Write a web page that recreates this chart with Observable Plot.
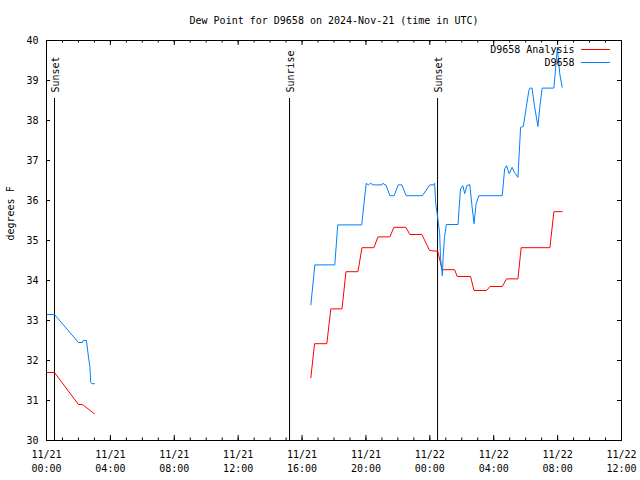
<!DOCTYPE html>
<html>
<head>
<meta charset="utf-8">
<script src="https://cdn.jsdelivr.net/npm/d3@7"></script>
<script src="https://cdn.jsdelivr.net/npm/@observablehq/plot@0.6"></script>
<style>
  html, body { margin: 0; padding: 0; background: #fff; }
</style>
</head>
<body>
<div id="chart"></div>
<script>
// ---------- data ----------
const titleText = "Dew Point for D9658 on 2024-Nov-21 (time in UTC)";
const yLabel = "degrees F";
const seriesNames = ["D9658 Analysis", "D9658"];
const seriesColors = ["#ff0000", "#0080ff"];

const analysisTimes = [
  "2024-11-21 00:00","2024-11-21 00:30","2024-11-21 02:00","2024-11-21 02:15","2024-11-21 03:00",
  "2024-11-21 03:01",
  "2024-11-21 16:33","2024-11-21 16:47","2024-11-21 17:33","2024-11-21 17:48","2024-11-21 18:30",
  "2024-11-21 18:45","2024-11-21 19:30","2024-11-21 19:45","2024-11-21 20:30","2024-11-21 20:45",
  "2024-11-21 21:30","2024-11-21 21:45","2024-11-21 22:30","2024-11-21 22:45","2024-11-21 23:30",
  "2024-11-21 23:59","2024-11-22 00:30","2024-11-22 00:38","2024-11-22 00:46","2024-11-22 01:33",
  "2024-11-22 01:43","2024-11-22 02:33","2024-11-22 02:46","2024-11-22 03:33","2024-11-22 03:46",
  "2024-11-22 04:32","2024-11-22 04:48","2024-11-22 05:31","2024-11-22 05:43","2024-11-22 07:31",
  "2024-11-22 07:46","2024-11-22 08:17"
];
const analysisDew = [
  31.7, 31.7, 30.9, 30.9, 30.67,
  null,
  31.57, 32.42, 32.42, 33.29, 33.29,
  34.22, 34.22, 34.82, 34.82, 35.09,
  35.09, 35.33, 35.33, 35.15, 35.15,
  34.75, 34.73, 34.5, 34.27, 34.27,
  34.1, 34.1, 33.75, 33.75, 33.85,
  33.85, 34.04, 34.04, 34.82, 34.82,
  35.72, 35.72
];

const obsTimes = [
  "2024-11-21 00:00","2024-11-21 00:30","2024-11-21 02:00","2024-11-21 02:15","2024-11-21 02:18",
  "2024-11-21 02:30","2024-11-21 02:38","2024-11-21 02:43","2024-11-21 02:46","2024-11-21 02:51",
  "2024-11-21 03:00",
  "2024-11-21 03:01",
  "2024-11-21 16:33","2024-11-21 16:48","2024-11-21 18:03","2024-11-21 18:14","2024-11-21 19:44",
  "2024-11-21 20:01","2024-11-21 20:09","2024-11-21 20:18","2024-11-21 20:27","2024-11-21 21:00",
  "2024-11-21 21:04","2024-11-21 21:12","2024-11-21 21:15","2024-11-21 21:30","2024-11-21 21:46",
  "2024-11-21 22:01","2024-11-21 22:15","2024-11-21 22:31","2024-11-21 23:32","2024-11-22 00:00",
  "2024-11-22 00:15","2024-11-22 00:18","2024-11-22 00:22","2024-11-22 00:29","2024-11-22 00:37",
  "2024-11-22 00:40","2024-11-22 00:47","2024-11-22 00:50","2024-11-22 00:55","2024-11-22 01:02",
  "2024-11-22 01:46","2024-11-22 01:55","2024-11-22 02:04","2024-11-22 02:11","2024-11-22 02:19",
  "2024-11-22 02:30","2024-11-22 02:39","2024-11-22 02:46","2024-11-22 02:54","2024-11-22 03:04",
  "2024-11-22 04:32","2024-11-22 04:41","2024-11-22 04:48","2024-11-22 04:58","2024-11-22 05:09",
  "2024-11-22 05:18","2024-11-22 05:31","2024-11-22 05:41","2024-11-22 05:51","2024-11-22 06:12",
  "2024-11-22 06:16","2024-11-22 06:24","2024-11-22 06:33","2024-11-22 06:46","2024-11-22 06:53",
  "2024-11-22 07:02","2024-11-22 07:46","2024-11-22 07:55","2024-11-22 07:59","2024-11-22 08:08",
  "2024-11-22 08:17"
];
const obsDew = [
  33.15, 33.15, 32.45, 32.45, 32.5,
  32.5, 32.07, 31.85, 31.45, 31.42,
  31.42,
  null,
  33.39, 34.39, 34.39, 35.39, 35.39,
  36.43, 36.39, 36.43, 36.39, 36.39,
  36.43, 36.39, 36.39, 36.12, 36.12,
  36.39, 36.39, 36.12, 36.12, 36.39,
  36.39, 36.43, 35.92, 35.6, 35.17,
  34.58, 34.12, 34.58, 35.08, 35.4,
  35.4, 36.29, 36.37, 36.17, 36.37,
  36.4, 35.83, 35.42, 35.92, 36.12,
  36.12, 36.79, 36.87, 36.67, 36.83,
  36.7, 36.58, 37.83, 37.85, 38.75,
  38.81, 38.81, 38.37, 37.85, 38.33,
  38.81, 38.81, 39.5, 39.83, 39.17,
  38.83
];

const eventTimes = ["2024-11-21 00:30", "2024-11-21 15:13", "2024-11-22 00:29"];
const eventLabels = ["Sunset", "Sunrise", "Sunset"];

const xDomain = ["2024-11-21 00:00", "2024-11-22 12:00"];
const yTicks = [30, 31, 32, 33, 34, 35, 36, 37, 38, 39, 40];
const xMajorTicks = [
  "2024-11-21 00:00","2024-11-21 04:00","2024-11-21 08:00","2024-11-21 12:00","2024-11-21 16:00",
  "2024-11-21 20:00","2024-11-22 00:00","2024-11-22 04:00","2024-11-22 08:00","2024-11-22 12:00"
];

// ---------- build ----------
const parse = d3.utcParse("%Y-%m-%d %H:%M");
const fmt = d3.utcFormat("%m/%d\n%H:%M");

const analysis = analysisTimes.map((t, i) => ({t: parse(t), v: analysisDew[i]}));
const obs = obsTimes.map((t, i) => ({t: parse(t), v: obsDew[i]}));
const events = eventTimes.map((t, i) => ({t: parse(t), label: eventLabels[i]}));
const majors = xMajorTicks.map(parse);
const dom = xDomain.map(parse);
const minors = d3.utcHour.range(dom[0], d3.utcHour.offset(dom[1], 1));

const W = 640, H = 480, mL = 46, mR = 19, mT = 40, mB = 40;
const iW = W - mL - mR, iH = H - mT - mB;

const plot = Plot.plot({
  width: W, height: H,
  marginLeft: mL, marginRight: mR, marginTop: mT, marginBottom: mB,
  style: {fontFamily: "'DejaVu Sans Mono', monospace", fontSize: "10px", background: "#fff", color: "#000"},
  x: {type: "utc", domain: dom, axis: null},
  y: {domain: [30, 40], axis: null},
  marks: [
    // minor and major x ticks, bottom and top
    Plot.ruleX(minors, {x: d => d, insetTop: iH - 2.5, stroke: "#000"}),
    Plot.ruleX(minors, {x: d => d, insetBottom: iH - 2.5, stroke: "#000"}),
    Plot.ruleX(majors, {x: d => d, insetTop: iH - 5, stroke: "#000"}),
    Plot.ruleX(majors, {x: d => d, insetBottom: iH - 5, stroke: "#000"}),
    // y ticks left and right
    Plot.ruleY(yTicks, {y: d => d, insetRight: iW - 4, stroke: "#000"}),
    Plot.ruleY(yTicks, {y: d => d, insetLeft: iW - 4, stroke: "#000"}),
    // tick labels
    Plot.text(yTicks, {y: d => d, text: d => String(d), frameAnchor: "left", textAnchor: "end", lineAnchor: "middle", dx: -8}),
    Plot.text(majors, {x: d => d, text: d => fmt(d), frameAnchor: "bottom", lineAnchor: "top", dy: 8, lineHeight: 1.4}),
    // sun events
    Plot.ruleX(events, {x: "t", insetTop: 58, stroke: "#000"}),
    Plot.text(events, {x: "t", text: "label", frameAnchor: "top", lineAnchor: "middle", dy: 52, dx: 1, rotate: -90, textAnchor: "start"}),
    // series
    Plot.line(analysis, {x: "t", y: "v", stroke: seriesColors[0], strokeWidth: 1}),
    Plot.line(obs, {x: "t", y: "v", stroke: seriesColors[1], strokeWidth: 1}),
    // legend text
    Plot.text([seriesNames[0]], {frameAnchor: "top-right", textAnchor: "end", lineAnchor: "middle", dx: -47, dy: 9}),
    Plot.text([seriesNames[1]], {frameAnchor: "top-right", textAnchor: "end", lineAnchor: "middle", dx: -47, dy: 22}),
    // title & y label
    Plot.text([titleText], {frameAnchor: "top", lineAnchor: "middle", dy: -20}),
    Plot.text([yLabel], {frameAnchor: "left", lineAnchor: "middle", dx: -36, rotate: -90}),
    Plot.frame({stroke: "#000"})
  ]
});

// legend sample lines
const svg = d3.select(plot);
seriesColors.forEach((c, i) => {
  svg.append("line")
    .attr("x1", W - mR - 40).attr("x2", W - mR - 11)
    .attr("y1", mT + 9.5 + i * 13).attr("y2", mT + 9.5 + i * 13)
    .attr("stroke", c).attr("stroke-width", 1);
});

document.getElementById("chart").appendChild(plot);
</script>
</body>
</html>
